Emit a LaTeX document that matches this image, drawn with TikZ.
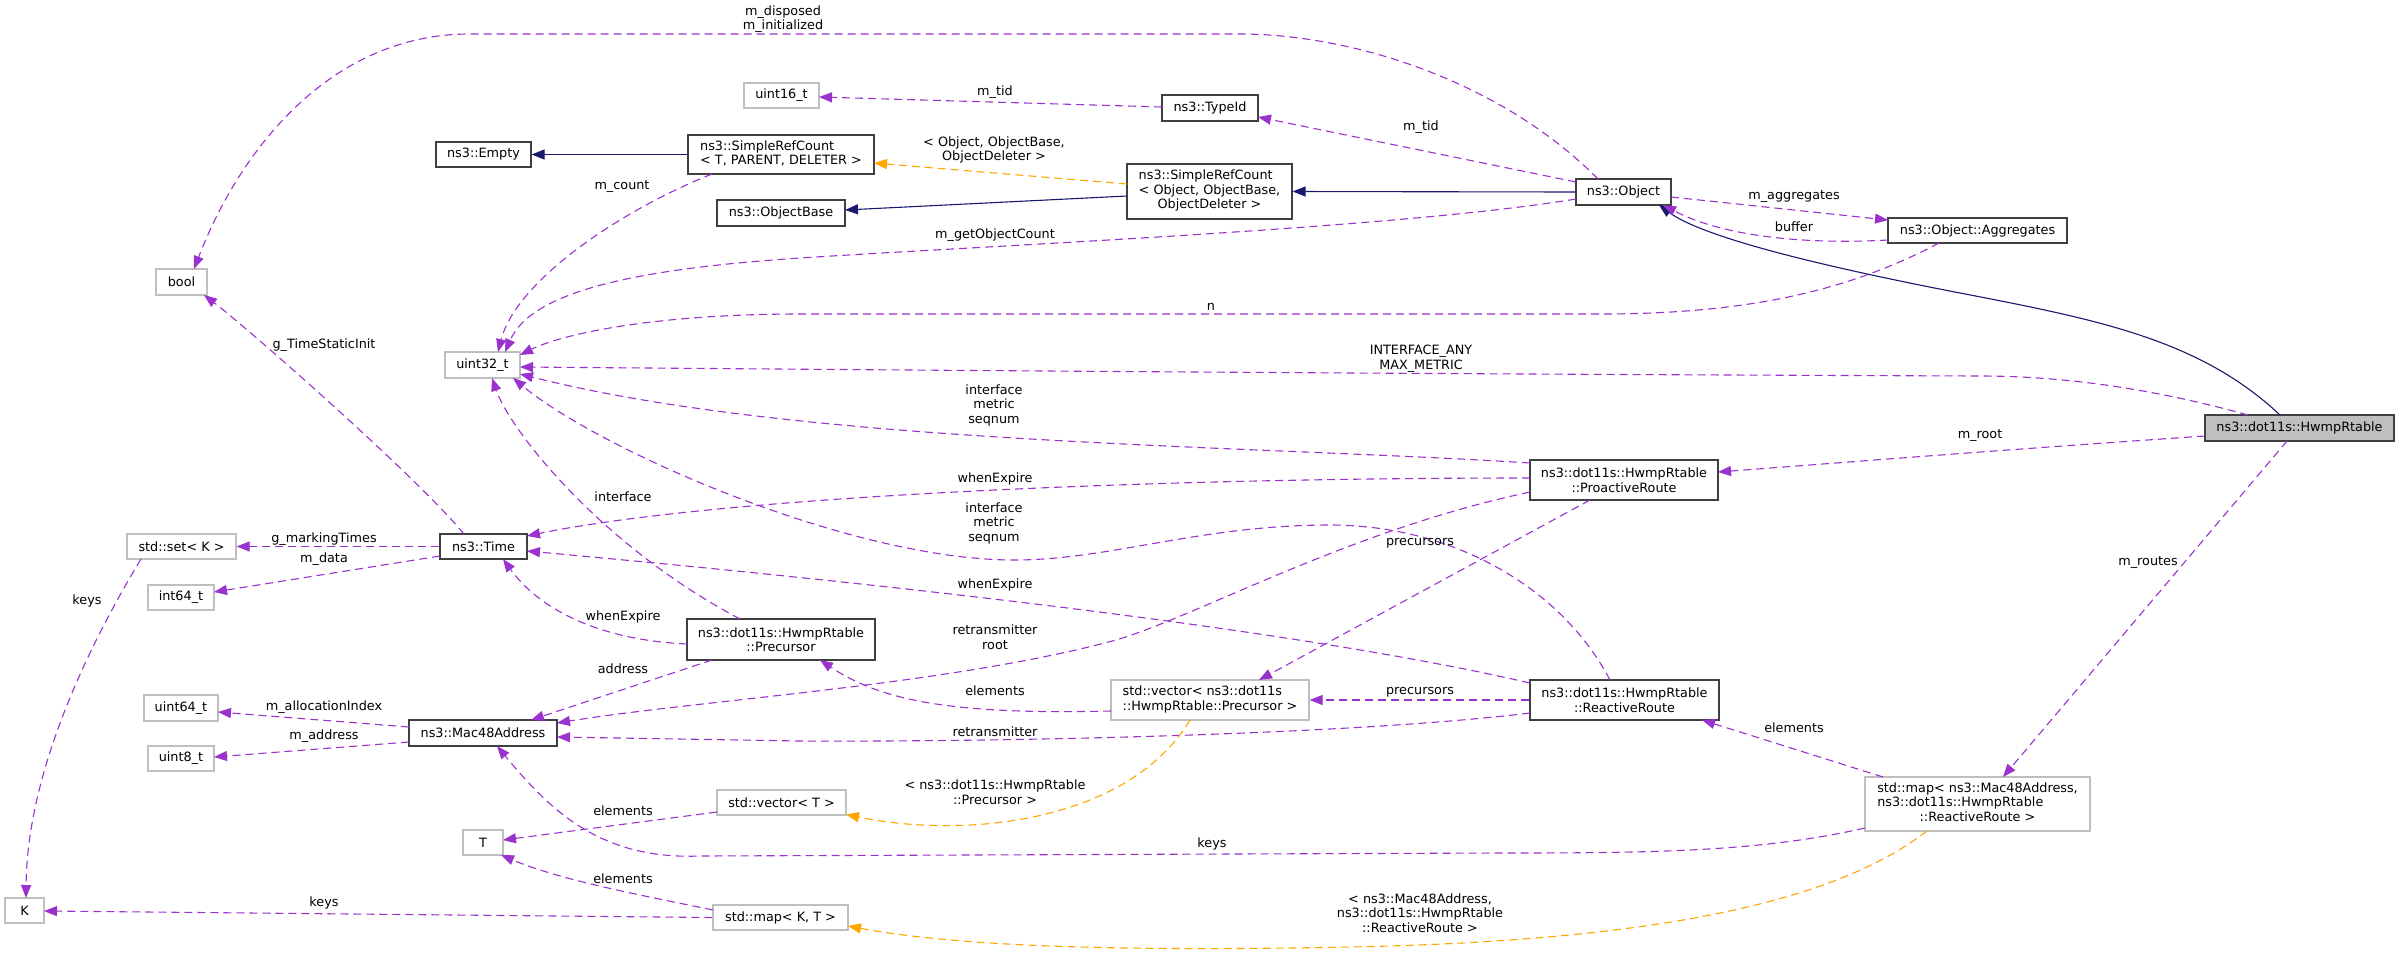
\documentclass[tikz,border=0pt]{standalone}
\usepackage{fontspec}
\setmainfont{DejaVu Sans}
\usetikzlibrary{arrows.meta,calc}
\definecolor{usecol}{HTML}{9A32CD}
\definecolor{inhcol}{HTML}{191970}
\definecolor{tplcol}{HTML}{FFA500}
\definecolor{greyb}{HTML}{BFBFBF}
\definecolor{boxcol}{HTML}{404040}
\newcommand\dgfont{\fontsize{12.8}{14.5}\selectfont}
\begin{document}
\begin{tikzpicture}[x=1pt,y=-1pt,
  box/.style={draw=boxcol,line width=1.2pt,fill=white,inner sep=0pt,font=\dgfont,align=center},
  ubox/.style={box,draw=greyb},
  gbox/.style={box,fill=greyb},
  lbl/.style={font=\dgfont,align=center,inner sep=0pt},
  tip/.style={-{Triangle[length=13pt,width=10pt]}},
  use/.style={draw=usecol,line width=1.1pt,dash pattern=on 8pt off 5pt,tip},
  inh/.style={draw=inhcol,line width=1.1pt,tip},
  tpl/.style={draw=tplcol,line width=1.1pt,dash pattern=on 8pt off 5pt,tip}]
\useasboundingbox[fill=white] (0,0) rectangle (2396,954);

% nodes
\node[ubox,minimum width=51pt,minimum height=26pt] (bool) at (181.5,282) {bool};
\node[ubox,minimum width=75pt,minimum height=25pt] (uint16) at (781.5,95.5) {uint16\_t};
\node[box,minimum width=95pt,minimum height=25pt] (empty) at (483.5,154.5) {ns3::Empty};
\node[box,minimum width=186pt,minimum height=39pt] (srcT) at (781,154.5) {\begin{tabular}{@{}l@{}}ns3::SimpleRefCount\\< T, PARENT, DELETER >\end{tabular}};
\node[box,minimum width=128pt,minimum height=26pt] (objbase) at (781,213) {ns3::ObjectBase};
\node[box,minimum width=96pt,minimum height=26pt] (typeid) at (1210,108) {ns3::TypeId};
\node[box,minimum width=165pt,minimum height=55pt] (srcO) at (1209.5,191.5) {\begin{tabular}{@{}l@{}}ns3::SimpleRefCount\\< Object, ObjectBase,\\\multicolumn{1}{@{}c@{}}{ObjectDeleter >}\end{tabular}};
\node[box,minimum width=95pt,minimum height=26pt] (object) at (1623.5,192) {ns3::Object};
\node[box,minimum width=179pt,minimum height=25pt] (aggr) at (1977.5,230.5) {ns3::Object::Aggregates};
\node[ubox,minimum width=75pt,minimum height=26pt] (uint32) at (482.5,365) {uint32\_t};
\node[gbox,minimum width=189pt,minimum height=26pt] (hwmp) at (2299.5,428) {ns3::dot11s::HwmpRtable};
\node[box,minimum width=188pt,minimum height=40pt] (proact) at (1624,480) {ns3::dot11s::HwmpRtable\\::ProactiveRoute};
\node[ubox,minimum width=109pt,minimum height=25pt] (set) at (181.5,546.5) {std::set< K >};
\node[box,minimum width=87pt,minimum height=25pt] (time) at (483.5,546.5) {ns3::Time};
\node[ubox,minimum width=66pt,minimum height=25pt] (int64) at (181,597.5) {int64\_t};
\node[box,minimum width=188pt,minimum height=41pt] (precursor) at (781,639.5) {ns3::dot11s::HwmpRtable\\::Precursor};
\node[ubox,minimum width=74pt,minimum height=26pt] (uint64) at (181,708) {uint64\_t};
\node[box,minimum width=148pt,minimum height=26pt] (mac) at (483,733) {ns3::Mac48Address};
\node[ubox,minimum width=66pt,minimum height=25pt] (uint8) at (181,758.5) {uint8\_t};
\node[ubox,minimum width=198pt,minimum height=40pt] (vecP) at (1210,700) {\begin{tabular}{@{}l@{}}std::vector< ns3::dot11s\\::HwmpRtable::Precursor >\end{tabular}};
\node[box,minimum width=189pt,minimum height=40pt] (react) at (1624.5,700) {ns3::dot11s::HwmpRtable\\::ReactiveRoute};
\node[ubox,minimum width=129pt,minimum height=25pt] (vecT) at (781.5,802.5) {std::vector< T >};
\node[ubox,minimum width=40pt,minimum height=25pt] (T) at (483,842.5) {T};
\node[ubox,minimum width=225pt,minimum height=54pt] (bigmap) at (1977.5,804) {\begin{tabular}{@{}l@{}}std::map< ns3::Mac48Address,\\ ns3::dot11s::HwmpRtable\\\multicolumn{1}{@{}c@{}}{::ReactiveRoute >}\end{tabular}};
\node[ubox,minimum width=39pt,minimum height=25pt] (K) at (24.5,910.5) {K};
\node[ubox,minimum width=135pt,minimum height=25pt] (mapKT) at (780.5,917.5) {std::map< K, T >};

% edges
\draw[use] ($(object)+(-25.5,-13)$) .. controls (1500,80) and (1350,34) .. (1240,34) -- (470,34) .. controls (330,34) and (240,150) .. ($(bool)+(12.5,-13)$);
\draw[use] ($(time)+(-19.5,-12.5)$) .. controls (420,480) and (250,330) .. ($(bool)+(22.5,13)$);
\draw[use] ($(typeid)+(-48,-1)$) -- ($(uint16)+(37.5,1.5)$);
\draw[use] ($(object)+(-47.5,-10)$) -- ($(typeid)+(48,9)$);
\draw[inh] (srcT.west) -- (empty.east);
\draw[tpl] ($(srcO)+(-82.5,-7.5)$) -- ($(srcT)+(93,8.5)$);
\draw[inh] ($(srcO)+(-82.5,4.5)$) -- ($(objbase)+(64,-3)$);
\draw[inh] (object.west) -- (srcO.east);
\draw[use] ($(srcT)+(-69,19.5)$) .. controls (610,215) and (515,285) .. ($(uint32)+(15.5,-13)$);
\draw[use] ($(object)+(-47.5,7)$) .. controls (1400,228) and (1000,245) .. (800,258) .. controls (620,270) and (530,295) .. ($(uint32)+(22.5,-13)$);
\draw[use] ($(aggr)+(-38.5,12.5)$) .. controls (1850,290) and (1750,314) .. (1600,314) -- (800,314) .. controls (650,314) and (560,335) .. ($(uint32)+(37.5,-10)$);
\draw[use] ($(hwmp)+(-51.5,-13)$) .. controls (2140,385) and (2050,376) .. (1980,376) .. controls (1400,374) and (900,370) .. ($(uint32)+(37.5,2)$);
\draw[use] ($(proact)+(-94,-17)$) .. controls (1250,445) and (800,445) .. ($(uint32)+(37.5,9)$);
\draw[use] ($(react)+(-14.5,-20)$) .. controls (1560,585) and (1450,525) .. (1330,525) .. controls (1200,525) and (1110,560) .. (1014,560) .. controls (850,560) and (600,450) .. ($(uint32)+(30.5,13)$);
\draw[use] ($(precursor)+(-41,-20.5)$) .. controls (600,545) and (510,430) .. ($(uint32)+(9.5,13)$);
\draw[use] ($(proact)+(-94,-2)$) .. controls (1100,478) and (700,500) .. ($(time)+(43.5,-10.5)$);
\draw[use] ($(react)+(-94.5,-17)$) .. controls (1300,630) and (900,585) .. ($(time)+(43.5,4.5)$);
\draw[use] ($(precursor)+(-94,4.5)$) .. controls (600,640) and (540,610) .. ($(time)+(19.5,12.5)$);
\draw[use] (time.west) -- (set.east);
\draw[use] ($(time)+(-43.5,9.5)$) -- ($(int64)+(33,-5.5)$);
\draw[use] ($(set)+(-40.5,12.5)$) .. controls (80,660) and (27,780) .. ($(K)+(1.5,-12.5)$);
\draw[use] ($(mac)+(-74,-6)$) -- ($(uint64)+(37,4)$);
\draw[use] ($(mac)+(-74,9)$) -- ($(uint8)+(33,-1.5)$);
\draw[use] ($(precursor)+(-69,20.5)$) -- ($(mac)+(48,-13)$);
\draw[use] ($(proact)+(-94,12)$) .. controls (1350,530) and (1200,615) .. (1116,640) .. controls (950,685) and (700,700) .. ($(mac)+(74,-10)$);
\draw[use] ($(react)+(-94.5,13)$) .. controls (1350,735) and (1000,742) .. (800,741) -- ($(mac)+(74,4)$);
\draw[use] ($(bigmap)+(-112.5,24)$) .. controls (1760,852) and (1650,853) .. (1500,853) -- (700,856) .. controls (600,860) and (550,810) .. ($(mac)+(14,13)$);
\draw[use] ($(hwmp)+(-94.5,8)$) .. controls (2000,450) and (1850,462) .. ($(proact)+(94,-8)$);
\draw[use] ($(proact)+(-34,20)$) -- ($(vecP)+(49,-20)$);
\draw[use] (react.west) -- (vecP.east);
\draw[use] ($(bigmap)+(-94.5,-27)$) -- ($(react)+(77.5,20)$);
\draw[use] ($(vecP)+(-99,11)$) .. controls (950,715) and (880,700) .. ($(precursor)+(39,20.5)$);
\draw[tpl] ($(vecP)+(-20,20)$) .. controls (1130,820) and (970,840) .. ($(vecT)+(64.5,12)$);
\draw[use] ($(vecT)+(-64.5,9.5)$) -- ($(T)+(20,-2.5)$);
\draw[use] ($(mapKT)+(-67.5,-7.5)$) .. controls (640,895) and (560,880) .. ($(T)+(18,12.5)$);
\draw[use] (mapKT.west) -- ($(K)+(19.5,0.5)$);
\draw[tpl] ($(bigmap)+(-50.5,27)$) .. controls (1850,890) and (1700,940) .. (1350,947) .. controls (1100,952) and (950,945) .. ($(mapKT)+(67.5,8.5)$);
\draw[use] ($(hwmp)+(-12.5,13)$) -- ($(bigmap)+(25.5,-27)$);
\draw[inh] ($(hwmp)+(-19.5,-13)$) .. controls (2200,340) and (2100,320) .. (1960,293) .. controls (1800,262) and (1700,235) .. ($(object)+(35.5,13)$);
\draw[use] ($(object)+(47.5,5)$) -- ($(aggr)+(-89.5,-10.5)$);
\draw[use] ($(aggr)+(-89.5,9.5)$) .. controls (1800,245) and (1720,235) .. ($(object)+(39.5,13)$);

% labels
\node[lbl] (l1) at (783,19) {m\_disposed\\m\_initialized};
\node[lbl] (l2) at (324,345) {g\_TimeStaticInit};
\node[lbl] (l3) at (995,92) {m\_tid};
\node[lbl] (l4) at (1421,127) {m\_tid};
\node[lbl] (l5) at (994,150) {< Object, ObjectBase,\\ObjectDeleter >};
\node[lbl] (l6) at (622,187) {m\_count};
\node[lbl] (l7) at (995,235) {m\_getObjectCount};
\node[lbl] (l8) at (1211,307) {n};
\node[lbl] (l9) at (1421,359) {INTERFACE\_ANY\\MAX\_METRIC};
\node[lbl] (l10) at (994,405) {interface\\metric\\seqnum};
\node[lbl] (l11) at (995,479) {whenExpire};
\node[lbl] (l12) at (994,523) {interface\\metric\\seqnum};
\node[lbl] (l13) at (1420,543) {precursors};
\node[lbl] (l14) at (995,585) {whenExpire};
\node[lbl] (l15) at (995,637) {retransmitter\\root};
\node[lbl] (l16) at (995,691) {elements};
\node[lbl] (l17) at (1420,692) {precursors};
\node[lbl] (l18) at (995,732) {retransmitter};
\node[lbl] (l19) at (1980,436) {m\_root};
\node[lbl] (l20) at (2148,563) {m\_routes};
\node[lbl] (l21) at (1794,197) {m\_aggregates};
\node[lbl] (l22) at (1794,227) {buffer};
\node[lbl] (l23) at (623,497) {interface};
\node[lbl] (l24) at (623,617) {whenExpire};
\node[lbl] (l25) at (324,539) {g\_markingTimes};
\node[lbl] (l26) at (324,559) {m\_data};
\node[lbl] (l27) at (87,601) {keys};
\node[lbl] (l28) at (623,669) {address};
\node[lbl] (l29) at (324,707) {m\_allocationIndex};
\node[lbl] (l30) at (324,736) {m\_address};
\node[lbl] (l31) at (623,811) {elements};
\node[lbl] (l32) at (623,879) {elements};
\node[lbl] (l33) at (324,903) {keys};
\node[lbl] (l34) at (1794,728) {elements};
\node[lbl] (l35) at (995,792) {< ns3::dot11s::HwmpRtable\\::Precursor >};
\node[lbl] (l36) at (1212,844) {keys};
\node[lbl] (l37) at (1420,913) {< ns3::Mac48Address,\\ns3::dot11s::HwmpRtable\\::ReactiveRoute >};
\end{tikzpicture}
\end{document}
